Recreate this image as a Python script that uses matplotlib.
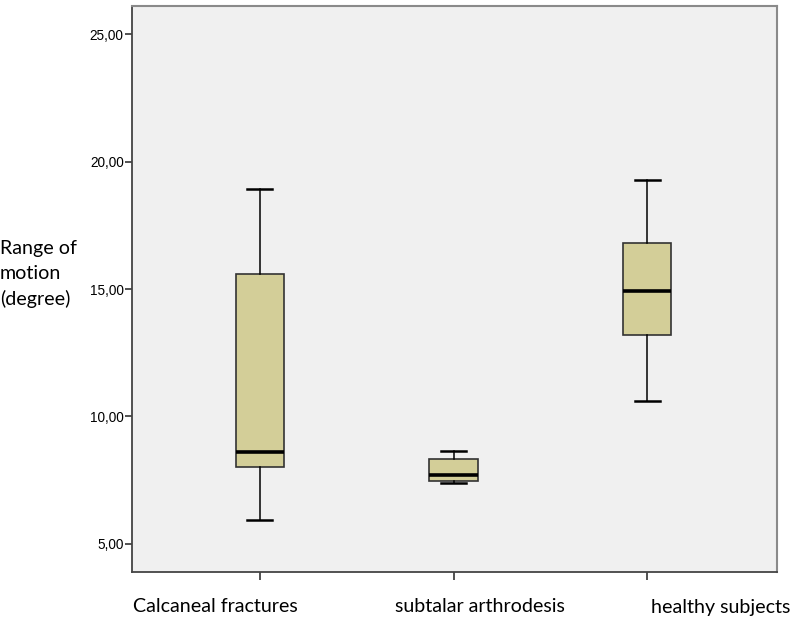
import matplotlib
matplotlib.use("Agg")
import matplotlib.pyplot as plt

groups = ["Calcaneal fractures", "subtalar arthrodesis", "healthy subjects"]
whislo = [5.94, 7.39, 10.61]
q1 = [8.02, 7.47, 13.20]
med = [8.61, 7.71, 14.92]
q3 = [15.59, 8.33, 16.80]
whishi = [18.92, 8.65, 19.27]
yticks = [5, 10, 15, 20, 25]
ytick_labels = ["5,00", "10,00", "15,00", "20,00", "25,00"]

stats = []
for i in range(len(groups)):
    stats.append({"whislo": whislo[i], "q1": q1[i], "med": med[i],
                  "q3": q3[i], "whishi": whishi[i], "fliers": []})

fig = plt.figure(figsize=(7.94, 6.21), dpi=100)
ax = fig.add_axes([0.1662, 0.0789, 0.8124, 0.9114])
ax.set_facecolor("#f0f0f0")

pos = [1, 2, 3]
ax.bxp(stats, positions=pos, widths=0.25, patch_artist=True,
       boxprops=dict(facecolor="#d3ce98", edgecolor="#333333", linewidth=1.2),
       medianprops=dict(color="black", linewidth=2.6),
       whiskerprops=dict(color="black", linewidth=1.1),
       capprops=dict(color="black", linewidth=1.8),
       capwidths=0.13)

ax.set_xlim(0.34, 3.67)
ax.set_ylim(3.9, 26.1)
ax.set_yticks(yticks)
ax.set_yticklabels(ytick_labels, fontfamily="Liberation Sans", fontsize=9.8)
ax.set_xticks(pos)
ax.set_xticklabels([])
ax.tick_params(axis="y", direction="out", length=5, width=1.2, color="#333333", pad=1)
ax.tick_params(axis="x", direction="out", length=6, width=1.2, color="#333333")

for s in ["left", "bottom"]:
    ax.spines[s].set_color("#444444")
    ax.spines[s].set_linewidth(1.3)
for s in ["top", "right"]:
    ax.spines[s].set_color("#8a8a8a")
    ax.spines[s].set_linewidth(1.5)

# group names sit off-centre under the ticks, as in the original
label_x = [215.5 / 794, 480 / 794, 721 / 794]
for name, x in zip(groups, label_x):
    fig.text(x, 1 - 607 / 621, name, ha="center", va="center",
             fontfamily="Lato", fontsize=14.1)

fig.text(0.0, 1 - 274 / 621, "Range of\nmotion\n(degree)", ha="left", va="center",
         fontfamily="Lato", fontsize=14.1, linespacing=1.53)

fig.savefig("out.png", dpi=100, facecolor="white")
